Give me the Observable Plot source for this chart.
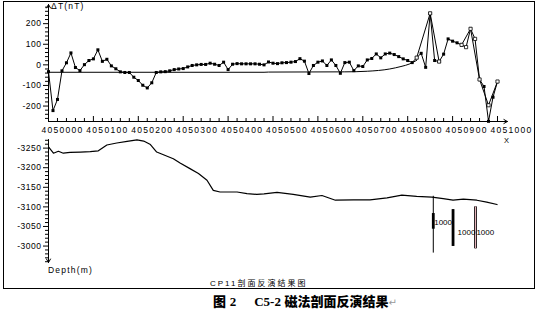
<!DOCTYPE html>
<html><head><meta charset="utf-8">
<script src="https://cdn.jsdelivr.net/npm/d3@7"></script>
<script src="https://cdn.jsdelivr.net/npm/@observablehq/plot@0.6"></script>
<style>
body{margin:0;background:#fff;}
#wrap{position:relative;width:536px;height:310px;overflow:hidden;font-family:"Liberation Sans",Arial,sans-serif;color:#000;}
#frame{position:absolute;left:3px;top:1px;width:530px;height:286px;border:1px solid #000;z-index:2;pointer-events:none;}
#topPanel,#botPanel{position:absolute;left:0;}
#topPanel{top:0}#botPanel{top:134px}
.lbl{position:absolute;font-size:8.5px;letter-spacing:1.2px;white-space:nowrap;line-height:10px;z-index:3;}
#caption{position:absolute;top:293px;left:213px;font-size:13px;line-height:16px;font-weight:bold;white-space:nowrap;}
.cjk{font-family:"Noto Sans CJK SC",sans-serif;font-weight:900;}
.ser{font-family:"Liberation Serif",serif;font-weight:bold;}
.ret{font-family:"DejaVu Sans",sans-serif;font-weight:normal;color:#999;font-size:10px;}
g[aria-label="x-axis tick label"] text{letter-spacing:1.3px;}
g[aria-label="y-axis tick label"] text{letter-spacing:0.5px;}
</style></head><body>
<div id="wrap">
<div id="topPanel"></div>
<div id="botPanel"></div>
<div id="frame"></div>
<div class="lbl" style="left:51px;top:1px;">ΔT(nT)</div>
<div class="lbl" style="left:504px;top:137px;font-size:7.5px;line-height:8px;letter-spacing:0;">X</div>
<div class="lbl" style="left:48px;top:265px;">Depth(m)</div>
<div class="lbl" style="left:210px;top:278px;font-size:8px;letter-spacing:2px;"><span style="font-family:'Liberation Sans'">CP11</span><span style="font-family:'Noto Sans CJK SC'">剖面反演结果图</span></div>
<div id="caption"><span class="cjk">图</span> <span class="ser">2</span>&nbsp;&nbsp;&nbsp;&nbsp; <span class="ser">C5-2</span> <span class="cjk">磁法剖面反演结果</span><span class="ret">↵</span></div>
</div>
<script>
// ---- axes ----
const xDomain = [4050000, 4051000];
const xAxisEnd = 4051022;
const dtDomain = [-275, 293];
const depthDomain = [-3272, -2958];
const xMajorTicks = [4050000,4050100,4050200,4050300,4050400,4050500,4050600,4050700,4050800,4050900,4051000];
const dtTicks = [-200,-100,0,100,200];
const depthTicks = [-3250,-3200,-3150,-3100,-3050,-3000];

// ---- observed ΔT (filled squares) ----
const obsX = [4050000,4050010,4050020,4050030,4050040,4050050,4050060,4050070,4050080,4050090,
4050100,4050110,4050120,4050130,4050140,4050150,4050160,4050170,4050180,4050190,
4050200,4050210,4050220,4050230,4050240,4050250,4050260,4050270,4050280,4050290,
4050300,4050310,4050320,4050330,4050340,4050350,4050360,4050370,4050380,4050390,
4050400,4050410,4050420,4050430,4050440,4050450,4050460,4050470,4050480,4050490,
4050500,4050510,4050520,4050530,4050540,4050550,4050560,4050570,4050580,4050590,
4050600,4050610,4050620,4050630,4050640,4050650,4050660,4050670,4050680,4050690,
4050700,4050710,4050720,4050730,4050740,4050750,4050760,4050770,4050780,4050790,
4050800,4050810,4050820,4050830,4050840,4050850,4050860,4050870,4050880,4050890,
4050900,4050910,4050920,4050940,4050960,4050970,4050980,4050990,4051000];
const obsY = [-33,-222,-168,-29,10,58,-13,-28,1,21,
29,73,17,27,-5,-19,-34,-37,-37,-60,
-76,-99,-112,-87,-37,-34,-33,-29,-23,-20,
-18,-10,-3,0,2,2,8,3,-3,13,
-23,3,6,5,5,5,5,3,0,14,
8,6,10,11,13,16,30,18,-42,-3,
13,19,-3,24,-3,-41,11,13,-28,-5,
-8,24,31,53,34,53,57,50,40,29,
21,11,35,56,-12,250,21,16,52,126,
115,107,97,175,-71,-105,-274,-157,-81];

// ---- calculated ΔT (open squares) ----
const calcX = [4050820,4050850,4050870,4050880,4050920,4050930,4050940,4050950,4050960,4050980,4051000];
const calcY = [35,250,16,null,97,86,175,126,-71,-196,-81];

// ---- regional background ----
const regX = [4050000,4050480,4050490,4050660,4050710,4050760,4050785,4050805,4050820];
const regY = [-36,-36,-35,-34,-31,-20,-8,5,22];

// ---- inverted interface depth ----
const depthX = [4050000,4050011,4050022,4050033,4050048,4050071,4050093,4050111,4050130,4050152,4050175,4050197,4050212,4050227,4050241,4050256,4050278,4050293,4050316,4050334,4050353,4050367,4050382,4050420,4050442,4050464,4050480,4050509,4050545,4050583,4050609,4050639,4050679,4050716,4050754,4050787,4050820,4050854,4050879,4050901,4050924,4050954,4050976,4050999];
const depthY = [-3253,-3237,-3242,-3237,-3239,-3240,-3241,-3243,-3258,-3263,-3267,-3271,-3268,-3259,-3240,-3233,-3223,-3212,-3197,-3185,-3168,-3142,-3138,-3138,-3134,-3132,-3133,-3137,-3132,-3125,-3129,-3117,-3118,-3118,-3123,-3130,-3127,-3125,-3121,-3117,-3120,-3117,-3112,-3106];

// ---- source bodies ----
const sourceX = [4050857,4050901,4050951];
const sourceTop = [-3127,-3093,-3100];
const sourceBottom = [-2982,-2999,-2993];
const bodyTop = [-3083,-3093,-3100];
const bodyBottom = [-3043,-2999,-2993];
const sourceLabel = ["1000","1000","1000"];
const labelX = [4050859,4050911,4050953];
const labelY = [-3059,-3034,-3035];

(function () {
const obs = obsX.map((x,i)=>({x, y: obsY[i]}));
const calc = calcX.map((x,i)=>({x, y: calcY[i]}));
const reg = regX.map((x,i)=>({x, y: regY[i]}));
const depth = depthX.map((x,i)=>({x, y: depthY[i]}));
const sources = sourceX.map((x,i)=>({x, top: sourceTop[i], bottom: sourceBottom[i], bTop: bodyTop[i], bBot: bodyBottom[i], label: sourceLabel[i], lx: labelX[i], ly: labelY[i]}));

const xMinor = d3.range(xDomain[0], xDomain[1] + 1, 20).filter(v => !xMajorTicks.includes(v));
const dtMinor = d3.range(-260, 290, 20).filter(v => !dtTicks.includes(v));
const depthMinor = d3.range(-3270, -2959, 10).filter(v => !depthTicks.includes(v));

const style = {fontFamily: "Liberation Sans, Arial, sans-serif", fontSize: "8.5px", color: "#000", background: "transparent"};
const topH = 134, topMT = 4, topMB = 13;
const innerTop = topH - topMT - topMB;

const topPlot = Plot.plot({
  width: 536, height: topH, marginLeft: 48, marginRight: 39, marginTop: topMT, marginBottom: topMB,
  x: {domain: xDomain},
  y: {domain: dtDomain},
  style,
  marks: [
    Plot.axisY({ticks: dtMinor, tickSize: 3, tickFormat: () => "", label: null}),
    Plot.axisY({ticks: dtTicks, tickSize: 5, tickPadding: 2, tickFormat: d => String(d), label: null}),
    Plot.tickX(xMinor, {x: d => d, insetTop: innerTop - 3, stroke: "#000"}),
    Plot.tickX(xMajorTicks, {x: d => d, insetTop: innerTop - 5, stroke: "#000"}),
    Plot.axisX({ticks: xMajorTicks, tickSize: 0, tickPadding: 5, dx: 14, tickFormat: d => String(d), label: null}),
    Plot.arrow([{x1: xDomain[0], y1: dtDomain[0], x2: xAxisEnd, y2: dtDomain[0]}], {x1: "x1", y1: "y1", x2: "x2", y2: "y2", stroke: "#000", strokeWidth: 1, headLength: 6}),
    Plot.arrow([{x1: xDomain[0], y1: dtDomain[0], x2: xDomain[0], y2: dtDomain[1]}], {x1: "x1", y1: "y1", x2: "x2", y2: "y2", stroke: "#000", strokeWidth: 1, headLength: 6}),
    Plot.line(reg, {x: "x", y: "y", curve: "monotone-x", stroke: "#000", strokeWidth: 1}),
    Plot.line(obs, {x: "x", y: "y", stroke: "#000", strokeWidth: 1}),
    Plot.line(calc, {x: "x", y: "y", stroke: "#000", strokeWidth: 1}),
    Plot.dot(obs, {x: "x", y: "y", symbol: "square", r: 1.7, fill: "#000", stroke: "none"}),
    Plot.dot(calc, {x: "x", y: "y", symbol: "square", r: 1.8, fill: "#fff", stroke: "#000", strokeWidth: 0.8})
  ]
});
document.getElementById("topPanel").appendChild(topPlot);

const botPlot = Plot.plot({
  width: 536, height: 156, marginLeft: 48, marginRight: 39, marginTop: 5, marginBottom: 28,
  x: {domain: xDomain, axis: null},
  y: {domain: depthDomain, reverse: true},
  style,
  marks: [
    Plot.axisY({ticks: depthMinor, tickSize: 3, tickFormat: () => "", label: null}),
    Plot.axisY({ticks: depthTicks, tickSize: 5, tickPadding: 2, tickFormat: d => String(d), label: null}),
    Plot.arrow([{x1: xDomain[0], y1: depthDomain[0], x2: xDomain[0], y2: depthDomain[1]}], {x1: "x1", y1: "y1", x2: "x2", y2: "y2", stroke: "#000", strokeWidth: 1, headLength: 6}),
    Plot.line(depth, {x: "x", y: "y", stroke: "#000", strokeWidth: 1.2}),
    Plot.ruleX(sources, {x: "x", y1: "top", y2: "bottom", stroke: "#000", strokeWidth: 1}),
    Plot.ruleX(sources, {x: "x", y1: "bTop", y2: "bBot", stroke: "#000", strokeWidth: 2.8}),
    Plot.ruleX(sources.filter((d, i) => i === sources.length - 1), {x: "x", y1: "bTop", y2: "bBot", stroke: "#e6b3bb", strokeWidth: 1.2}),
    Plot.text(sources, {x: "lx", y: "ly", text: "label", textAnchor: "start", fontSize: 8, fill: "#000", style: "letter-spacing:0.8px"})
  ]
});
document.getElementById("botPanel").appendChild(botPlot);
})();
</script>
</body></html>
